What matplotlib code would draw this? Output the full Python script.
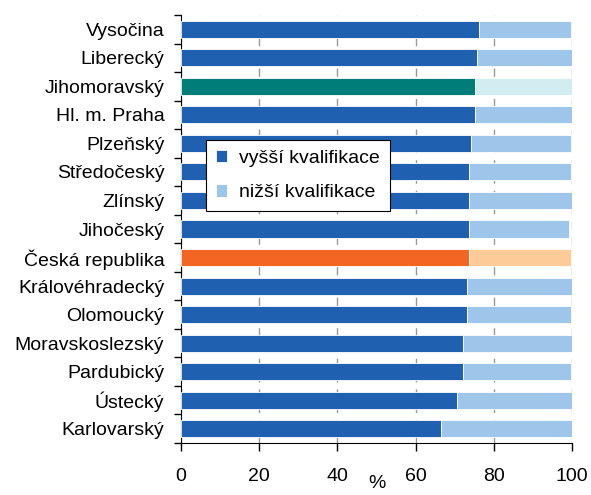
import numpy as np
from matplotlib import pyplot as plt

plt.rcParams['font.family'] = ['Liberation Sans', 'DejaVu Sans']

# kraje (shora dolu)
kraje = ["Vysočina", "Liberecký", "Jihomoravský", "Hl. m. Praha", "Plzeňský",
         "Středočeský", "Zlínský", "Jihočeský", "Česká republika",
         "Královéhradecký", "Olomoucký", "Moravskoslezský", "Pardubický",
         "Ústecký", "Karlovarský"]
vyssi = [76.2, 75.8, 75.3, 75.3, 74.2, 73.6, 73.6, 73.6, 73.6,
         73.1, 73.1, 72.1, 72.1, 70.6, 66.6]
nizsi = [23.5, 24.2, 24.7, 24.7, 25.5, 26.1, 26.4, 25.6, 26.1,
         26.9, 26.6, 27.9, 27.6, 29.4, 33.4]

zvyrazneni = {"Jihomoravský": ("#007d78", "#d2edf2"),
              "Česká republika": ("#f26522", "#fdcb98")}
c_vyssi = "#2060b0"
c_nizsi = "#9dc6ea"

fig = plt.figure(figsize=(5.91, 4.95), dpi=100)
ax = fig.add_axes([181 / 591, 52 / 495, 391 / 591, 428 / 495])

y = np.arange(len(kraje))[::-1]
barvy1 = [zvyrazneni.get(k, (c_vyssi, c_nizsi))[0] for k in kraje]
barvy2 = [zvyrazneni.get(k, (c_vyssi, c_nizsi))[1] for k in kraje]

ax.barh(y, vyssi, height=0.6, color=barvy1, edgecolor="white", linewidth=0.6,
        zorder=3, label="vyšší kvalifikace")
ax.barh(y, nizsi, left=vyssi, height=0.6, color=barvy2, edgecolor="white",
        linewidth=0.6, zorder=3, label="nižší kvalifikace")

ax.set_xlim(0, 100)
ax.set_ylim(-0.5, len(kraje) - 0.5)
ax.set_xticks(range(0, 101, 20))
ax.set_yticks(y)
ax.set_yticklabels(kraje)
ax.set_yticks(np.arange(-0.5, len(kraje), 1), minor=True)
ax.tick_params(axis="y", which="major", length=0, pad=12, labelsize=14)
ax.tick_params(axis="y", which="minor", length=5, width=1, direction="out")
ax.tick_params(axis="x", length=6, width=1, direction="out", pad=12, labelsize=14)

ax.xaxis.grid(True, color="#999999", linestyle=(0, (6, 5)), linewidth=1, zorder=0)
ax.set_axisbelow(True)
for s in ["top", "right"]:
    ax.spines[s].set_visible(False)

ax.set_xlabel("%", fontsize=14, labelpad=-7)

h, l = ax.get_legend_handles_labels()
leg = ax.legend(h, l, loc="upper left", bbox_to_anchor=(25 / 391, 303 / 428),
                borderaxespad=0, fontsize=14, frameon=True, fancybox=False,
                edgecolor="black", framealpha=1, handlelength=0.6,
                handleheight=0.6, handletextpad=0.6, labelspacing=0.9,
                borderpad=0.5)
leg.get_patches()[0].set_facecolor(c_vyssi)
leg.get_patches()[1].set_facecolor(c_nizsi)
leg.get_frame().set_linewidth(0.8)

fig.savefig("out.png", dpi=100)
